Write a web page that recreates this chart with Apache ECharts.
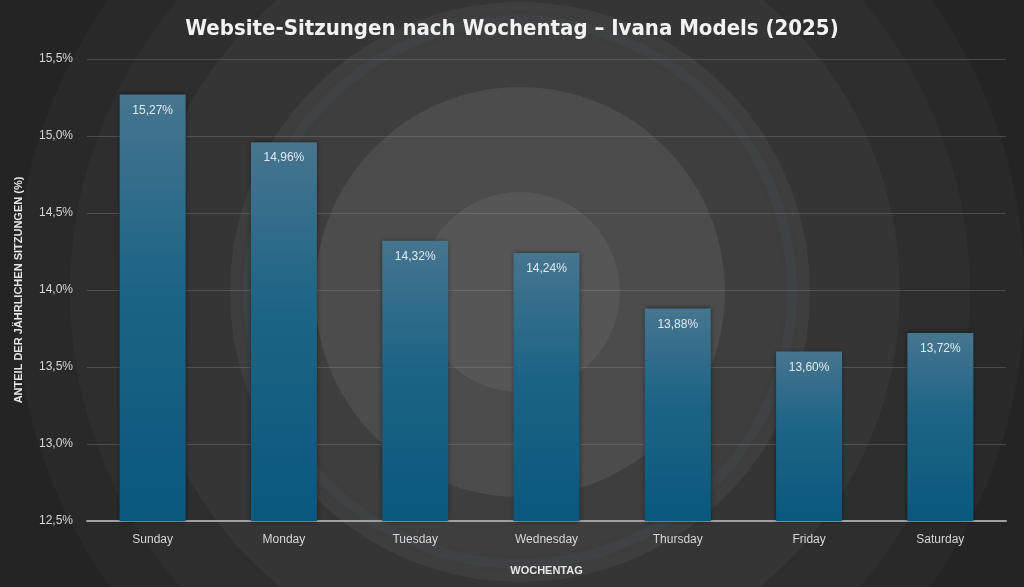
<!DOCTYPE html>
<html>
<head>
<meta charset="utf-8">
<script src="https://cdn.jsdelivr.net/npm/echarts@6/dist/echarts.min.js"></script>
<style>
html,body{margin:0;padding:0;background:#262626;}
#chart{width:1024px;height:587px;}
</style>
</head>
<body>
<div id="chart"></div>
<script>
// Wochentage und Anteil der Sitzungen (%)
var days = ['Sunday', 'Monday', 'Tuesday', 'Wednesday', 'Thursday', 'Friday', 'Saturday'];
var shares = [15.27, 14.96, 14.32, 14.24, 13.88, 13.60, 13.72];
var yTicks = [12.5, 13.0, 13.5, 14.0, 14.5, 15.0, 15.5];

function pct(v, d) {
    return v.toFixed(d).replace('.', ',') + '%';
}

// Hintergrund: konzentrische Ringe
function rings() {
    var cx = 520, cy = 292;
    var list = [
        [620, '#242424'], [505, '#292929'], [450, '#2e2e2e'], [380, '#353535'],
        [290, '#3e3e3e'], [205, '#4c4c4c'], [100, '#565656']
    ];
    var els = list.map(function (r) {
        return { type: 'circle', shape: { cx: cx, cy: cy, r: r[0] }, style: { fill: r[1] }, silent: true };
    });
    els.push({ type: 'circle', shape: { cx: cx, cy: cy, r: 272 },
        style: { fill: null, stroke: 'rgba(80,110,130,0.08)', lineWidth: 10, shadowBlur: 12, shadowColor: 'rgba(80,110,130,0.2)' }, silent: true });
    return els;
}

var myChart = echarts.init(document.getElementById('chart'));

var option = {
    backgroundColor: '#262626',
    graphic: { elements: [{ type: 'group', z: -10, silent: true, children: rings() }] },
    title: {
        text: 'Website-Sitzungen nach Wochentag – Ivana Models (2025)',
        left: 'center',
        top: 13,
        textStyle: {
            color: '#f2f2f2',
            fontFamily: 'DejaVu Sans Condensed',
            fontWeight: 'bold',
            fontSize: 22
        }
    },
    grid: { left: 87, right: 18, top: 59, bottom: 66 },
    xAxis: {
        type: 'category',
        data: days,
        name: 'WOCHENTAG',
        nameLocation: 'middle',
        nameGap: 44,
        nameTextStyle: { color: '#e6e6e6', fontWeight: 'bold', fontSize: 11, fontFamily: 'Liberation Sans' },
        axisLine: { lineStyle: { color: '#a0a0a0', width: 2 } },
        axisTick: { show: false },
        axisLabel: { color: '#d6d6d6', fontSize: 12, margin: 13, fontFamily: 'Liberation Sans' }
    },
    yAxis: {
        type: 'value',
        min: yTicks[0],
        max: yTicks[yTicks.length - 1],
        interval: 0.5,
        name: 'ANTEIL DER JÄHRLICHEN SITZUNGEN (%)',
        nameLocation: 'middle',
        nameGap: 63,
        nameTextStyle: { color: '#e6e6e6', fontWeight: 'bold', fontSize: 11, fontFamily: 'Liberation Sans' },
        axisLine: { show: false },
        axisTick: { show: false },
        axisLabel: {
            color: '#d6d6d6', fontSize: 12, margin: 14, fontFamily: 'Liberation Sans',
            formatter: function (v) { return pct(v, 1); }
        },
        splitLine: { lineStyle: { color: 'rgba(140,140,140,0.35)', width: 1 } }
    },
    series: [{
        type: 'bar',
        data: shares,
        barWidth: 66,
        itemStyle: {
            color: new echarts.graphic.LinearGradient(0, 0, 0, 1, [
                { offset: 0, color: '#46758f' },
                { offset: 0.45, color: '#1c6485' },
                { offset: 1, color: '#0a587e' }
            ]),
            shadowBlur: 5,
            shadowColor: 'rgba(0,0,0,0.55)'
        },
        label: {
            show: true,
            position: 'insideTop',
            distance: 10,
            color: '#e2e8ee',
            fontSize: 12,
            fontFamily: 'Liberation Sans',
            formatter: function (p) { return pct(p.value, 2); }
        }
    }]
};

myChart.setOption(option);
</script>
</body>
</html>
